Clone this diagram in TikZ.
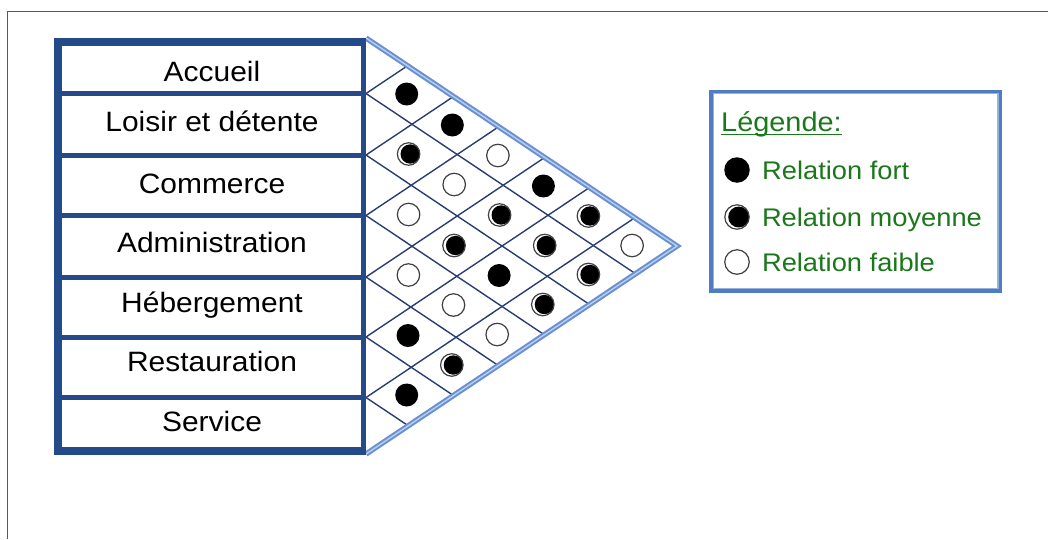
\documentclass[tikz,border=0pt]{standalone}
\usepackage{fontspec}
\setmainfont{Liberation Sans}[FakeStretch=1.07]
\usetikzlibrary{positioning}
\definecolor{boxblue}{RGB}{36,74,138}
\definecolor{gridblue}{RGB}{40,62,114}
\definecolor{edgeblue}{RGB}{104,144,210}
\definecolor{edgelight}{RGB}{186,206,238}
\definecolor{legblue}{RGB}{80,124,194}
\definecolor{leglight}{RGB}{150,178,222}
\definecolor{leggreen}{RGB}{26,120,26}
\definecolor{framegray}{RGB}{90,90,90}

\begin{document}
\begin{tikzpicture}[x=1pt, y=-1pt,
    rowtext/.style={font=\fontsize{28}{32}\selectfont, text height=20pt, text depth=0pt, inner sep=0pt},
    legtext/.style={font=\fontsize{25.5}{30}\selectfont, text=leggreen, text height=18.3pt, text depth=0pt, inner sep=0pt},
    fort/.style={circle, fill=black, minimum size=23pt, inner sep=0pt},
    faible/.style={circle, draw=black!75, line width=1.2pt, fill=white, minimum size=22.5pt, inner sep=0pt},
    moyenne/.style={faible, minimum size=2*#1, path picture={
        \fill[black] ([xshift=-0.86*#1]path picture bounding box.east) circle (0.86*#1);}},
    moyenne/.default=11.25pt,
    gridline/.style={draw=gridblue, line width=1.4pt},
    roofedge/.style={draw=edgeblue, double=edgelight, double distance=1.4pt, line width=2pt},
    boxline/.style={draw=boxblue, line width=5pt},
    legendbox/.style={draw=legblue, line width=3.5pt, minimum width=289.5pt, minimum height=199.5pt, inner sep=0pt}
    ]
    \useasboundingbox (0,0) rectangle (1048,539);

    % Frame
    \draw[framegray, line width=1.3pt] (7.5,539) -- (7.5,11.7) -- (1048,11.7);

    % Roof grid
    \coordinate (tl) at (366,38);
    \coordinate (apex) at (677,246);
    \coordinate (bl) at (366,454);
    \foreach \s in {93.5,155,215.5,277,337,397.5} {
        \draw[gridline] (366,\s) -- ++({(\s-38)/1.33762},{-(\s-38)/2});
        \draw[gridline] (366,\s) -- ++({(454-\s)/1.33762},{(454-\s)/2});
    }
    \draw[roofedge] (tl) -- (apex) -- (bl);

    % Left box
    \draw[boxline, line width=8pt] (363.5,42) -- (58,42) -- (58,450.5) -- (363.5,450.5);
    \draw[boxline] (363.5,38) -- (363.5,454.5);
    \foreach \s in {93.5,155,215.5,277,337,397.5}
        \draw[boxline] (62,\s) -- (361,\s);

    % Rows
    \node[rowtext] (accueil) at (212,71) {Accueil};
    \node[rowtext] (loisir) at (212,121) {Loisir et détente};
    \node[rowtext] (commerce) at (212,183) {Commerce};
    \node[rowtext] (admin) at (212,242) {Administration};
    \node[rowtext] (heberg) at (212,302) {Hébergement};
    \node[rowtext] (resto) at (212,361) {Restauration};
    \node[rowtext] (service) at (212,421) {Service};

    % Relations
    \foreach \x/\y/\kind [count=\n] in {
        406.7/94/fort, 408.6/154/moyenne, 408.6/214.5/faible, 408.4/275/faible, 408/335.5/fort, 406.7/395/fort,
        452.3/125/fort, 454.2/184.5/faible, 454/245.5/moyenne, 453.5/305/faible, 451.8/365/moyenne,
        497.9/155.5/faible, 499.6/215/moyenne, 499.1/275.5/fort, 497.2/334.5/faible,
        543.4/186/fort, 544.7/245.5/moyenne, 542.8/304.5/moyenne,
        588.4/216/moyenne, 588.4/274.5/moyenne,
        632.1/245.5/faible}
        \node[\kind] (dot\n) at (\x,\y) {};

    % Legend
    \node[legendbox] (legend) at (855.7,191) {};
    \draw[leglight, line width=1.2pt] ([xshift=4.3pt,yshift=-4.3pt]legend.north west)
        rectangle ([xshift=-4.3pt,yshift=4.3pt]legend.south east);
    \node[legtext, font=\fontsize{27}{32}\selectfont, text height=19.3pt, anchor=west] (legtitle) at (721,121.5) {Légende:};
    \draw[leggreen, line width=1.5pt] ([yshift=-3.3pt]legtitle.south west) -- ([yshift=-3.3pt]legtitle.south east);
    \node[fort, minimum size=25.5pt] (icofort) at (737,170) {};
    \node[moyenne=12.2pt] (icomoy) at (737,217) {};
    \node[faible, minimum size=24.5pt] (icofaible) at (737,262) {};
    \node[legtext, right=12pt of icofort] (txtfort) {Relation fort};
    \node[legtext, right=12pt of icomoy] (txtmoy) {Relation moyenne};
    \node[legtext, right=12pt of icofaible] (txtfaible) {Relation faible};
\end{tikzpicture}
\end{document}
